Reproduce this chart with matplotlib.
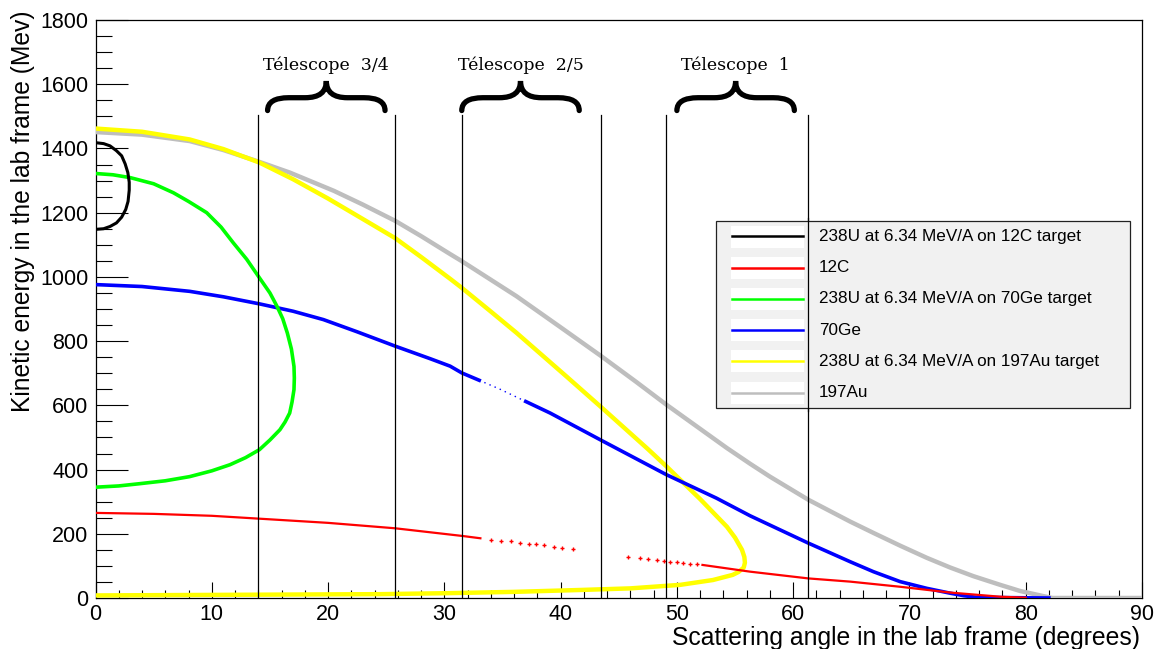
import matplotlib
matplotlib.use("Agg")
import matplotlib.pyplot as plt
from matplotlib.patches import Rectangle, PathPatch
from matplotlib.path import Path
from matplotlib.lines import Line2D
import numpy as np

# ---------------- data ----------------
# 238U on 12C (scattered U)
u_c_angle = [0.0, 0.7, 1.25, 1.8, 2.25, 2.55, 2.78, 2.9, 2.9, 2.8, 2.6, 2.25, 1.8, 1.25, 0.7, 0.0]
u_c_energy = [1418, 1415, 1408, 1393, 1377, 1352, 1325, 1295, 1270, 1235, 1210, 1186, 1168, 1157, 1150, 1148]

# 12C recoil: dense part, sparse dots, dense tail
c_angle = [0.0, 5.0, 10.0, 14.1, 20.0, 25.8, 31.6, 33.1]
c_energy = [265, 262, 256, 247, 234, 217, 193, 186]
c_dot_angle = [34.0, 34.9, 35.7, 36.5, 37.3, 37.9, 38.6, 39.4, 40.1, 41.1,
               45.8, 46.8, 47.5, 48.3, 48.9, 49.4, 50.0, 50.5, 51.1, 51.7]
c_dot_energy = [182, 179, 176, 172, 169, 167, 164, 160, 157, 153,
                129, 124, 121, 118, 115, 113, 111, 109, 107, 105]
c_tail_angle = [52.2, 56.3, 61.3, 64.9, 69.2, 73.5, 77.8, 80.0]
c_tail_energy = [103, 82, 61, 51, 35, 17, 4, 1]

# 238U on 70Ge (scattered U)
u_ge_angle = [0.0, 1.5, 3.0, 5.0, 6.7, 8.0, 9.56, 10.8, 11.85, 13.0, 14.1, 15.0, 15.6, 16.1,
              16.5, 16.85, 17.07, 17.1, 17.07, 16.9, 16.7, 16.3, 15.86, 15.0, 14.1, 12.9,
              11.56, 10.0, 8.1, 6.0, 3.8, 2.0, 0.0]
u_ge_energy = [1322, 1318, 1309, 1290, 1262, 1235, 1200, 1155, 1106, 1055, 997, 950, 909, 870,
               825, 775, 721, 685, 649, 610, 576, 548, 524, 492, 462, 437,
               415, 396, 378, 365, 356, 349, 345]

# 70Ge recoil
ge_angle = [0.0, 4.0, 8.1, 11.0, 14.1, 17.0, 19.6, 22.5, 25.8, 28.8, 30.5, 31.5, 33.0, 34.8,
            37.0, 39.1, 43.5, 49.1, 53.4, 56.3, 61.3, 64.9, 66.9, 69.2, 71.5, 73.5, 74.7,
            75.8, 82.0]
ge_energy = [976, 970, 955, 938, 916, 893, 867, 829, 784, 745, 722, 701, 678, 650,
             612, 576, 491, 384, 311, 256, 171, 113, 82, 51, 30, 15, 7,
             2, 0]

# 238U on 197Au (scattered U)
u_au_angle = [0.0, 4.0, 8.1, 11.0, 14.1, 17.0, 20.0, 23.0, 25.8, 28.0, 30.5, 31.5, 34.0, 36.2,
              40.5, 43.5, 47.5, 49.1, 52.0, 54.3, 55.0, 55.6, 55.8, 55.85, 55.75, 55.3, 54.8,
              53.1, 50.3, 46.0, 41.7, 35.9, 30.2, 24.5, 12.0, 0.0]
u_au_energy = [1462, 1452, 1428, 1398, 1356, 1304, 1244, 1180, 1120, 1062, 994, 966, 892, 826,
               690, 594, 464, 410, 308, 222, 188, 150, 128, 110, 95, 81, 72,
               56, 41, 30, 25, 19, 15, 12, 10, 8]

# 197Au recoil
au_angle = [0.0, 4.0, 8.1, 11.0, 14.1, 16.7, 20.5, 23.0, 25.8, 28.0, 30.5, 31.5, 36.2, 40.0,
            43.5, 46.5, 49.1, 54.3, 56.3, 58.0, 61.3, 64.9, 67.0, 69.2, 71.5, 73.5,
            75.5, 77.8, 79.5, 81.5, 82.3, 90.0]
au_energy = [1451, 1443, 1423, 1395, 1358, 1325, 1268, 1225, 1174, 1127, 1071, 1049, 940, 843,
             753, 673, 602, 467, 418, 378, 306, 238, 201, 163, 125, 95,
             68, 41, 22, 6, 0, 0]

# telescope boundaries (degrees) and labels
tel_lines = [14.0, 25.8, 31.5, 43.5, 49.1, 61.3]
tel_labels = ["Télescope  3/4", "Télescope  2/5", "Télescope  1"]
tel_brace_ranges = [(14.8, 24.9), (31.5, 41.6), (50.0, 60.1)]

legend_labels = ["238U at 6.34 MeV/A on 12C target", "12C",
                 "238U at 6.34 MeV/A on 70Ge target", "70Ge",
                 "238U at 6.34 MeV/A on 197Au target", "197Au"]
legend_colors = ["#000000", "#ff0000", "#00ff00", "#0000ff", "#ffff00", "#bebebe"]

# ---------------- figure ----------------
W, H = 1158, 649
fig = plt.figure(figsize=(W / 100, H / 100), dpi=100)
L, R, T, B = 95.5, 1142, 20, 598
ax = fig.add_axes([L / W, 1 - B / H, (R - L) / W, (B - T) / H])
ax.set_xlim(0, 90)
ax.set_ylim(0, 1800)

sans = "Liberation Sans"
lw_curve = 2.6

ax.plot(au_angle, au_energy, color="#bebebe", lw=3.2, zorder=3, solid_capstyle="butt")
ax.plot(u_au_angle, u_au_energy, color="#ffff00", lw=3.2, zorder=4)
ge_a = np.array(ge_angle); ge_e = np.array(ge_energy)
m1 = ge_a <= 33.0
m2 = (ge_a >= 33.0) & (ge_a <= 37.0)
m3 = ge_a >= 37.0
ax.plot(ge_a[m1], ge_e[m1], color="#0000ff", lw=lw_curve, zorder=5)
ax.plot(ge_a[m2], ge_e[m2], color="#0000ff", lw=1.0, ls=(0, (1, 3)), zorder=5)
ax.plot(ge_a[m3], ge_e[m3], color="#0000ff", lw=lw_curve, zorder=5)
ax.plot(u_ge_angle, u_ge_energy, color="#00ff00", lw=lw_curve, zorder=5)
ax.plot(u_c_angle, u_c_energy, color="#000000", lw=2.2, zorder=5)
ax.plot(c_angle, c_energy, color="#ff0000", lw=1.6, zorder=5)
ax.plot(c_dot_angle, c_dot_energy, ls="none", marker="+", ms=3.5, mew=1.0,
        color="#ff0000", zorder=5)
ax.plot(c_tail_angle, c_tail_energy, color="#ff0000", lw=1.6, zorder=5)

for xv in tel_lines:
    ax.plot([xv, xv], [0, 1503], color="black", lw=0.9, zorder=8)

# braces
def brace(ax, x0, x1, yb, ym, yt, lw=3.8):
    xc = 0.5 * (x0 + x1)
    w = x1 - x0
    verts = [(x0, yb), (x0, ym), (x0 + 0.18 * w, ym),
             (xc - 0.18 * w, ym), (xc, ym), (xc, yt),
             (xc, ym), (xc + 0.18 * w, ym),
             (x1 - 0.18 * w, ym), (x1, ym), (x1, yb)]
    codes = [Path.MOVETO, Path.CURVE3, Path.CURVE3,
             Path.LINETO, Path.CURVE3, Path.CURVE3,
             Path.CURVE3, Path.CURVE3,
             Path.LINETO, Path.CURVE3, Path.CURVE3]
    ax.add_patch(PathPatch(Path(verts, codes), fill=False, lw=lw,
                           edgecolor="black", capstyle="round", zorder=9,
                           clip_on=False))

for (x0, x1), lab in zip(tel_brace_ranges, tel_labels):
    brace(ax, x0, x1, 1518, 1558, 1610)
    ax.text(0.5 * (x0 + x1), 1645, lab, ha="center", va="baseline",
            family="DejaVu Serif", fontsize=12.5, zorder=9)

# axes styling
for s in ax.spines.values():
    s.set_linewidth(0.9)
ax.set_xticks(np.arange(0, 91, 10))
ax.set_xticks(np.arange(0, 91, 2), minor=True)
ax.set_yticks(np.arange(0, 1801, 200))
ax.set_yticks(np.arange(0, 1801, 50), minor=True)
ax.tick_params(axis="x", which="major", direction="in", length=11.5, width=0.8,
               labelsize=15.5, pad=4.5, top=False)
ax.tick_params(axis="x", which="minor", direction="in", length=5.5, width=0.8, top=False)
ax.tick_params(axis="y", which="major", direction="in", length=23, width=0.8,
               labelsize=15.5, pad=5, right=False)
ax.tick_params(axis="y", which="minor", direction="in", length=11.5, width=0.8, right=False)
for lab in ax.get_xticklabels() + ax.get_yticklabels():
    lab.set_family(sans)

fig.text(1140 / W, 1 - 645 / H, "Scattering angle in the lab frame (degrees)",
         ha="right", va="baseline", family=sans, fontsize=17.8)
fig.text(23 / W, 1 - 10 / H, "Kinetic energy in the lab frame (Mev)",
         ha="center", va="top", rotation=90, family=sans, fontsize=17.7)

# manual legend (ROOT style)
def fx(px):
    return px / W
def fy(py):
    return 1 - py / H

lx0, lx1, ly0, ly1 = 716, 1130, 221, 408
fig.patches.append(Rectangle((fx(lx0), fy(ly1)), fx(lx1) - fx(lx0), fy(ly0) - fy(ly1),
                             transform=fig.transFigure, facecolor="#f1f1f1",
                             edgecolor="#222222", lw=0.9, zorder=6))
row0, drow = 236.5, 31.2
for i, (lab, col) in enumerate(zip(legend_labels, legend_colors)):
    yc = row0 + i * drow
    fig.patches.append(Rectangle((fx(731), fy(yc + 11)), fx(804) - fx(731), fy(yc - 11) - fy(yc + 11),
                                 transform=fig.transFigure, facecolor="white",
                                 edgecolor="none", zorder=6.5))
    fig.lines.append(Line2D([fx(732), fx(803)], [fy(yc), fy(yc)], transform=fig.transFigure,
                            color=col, lw=1.8, zorder=7))
    fig.text(fx(819), fy(yc), lab, ha="left", va="center", family=sans,
             fontsize=12.3, zorder=7)

# the telescope line crossing the legend is drawn on top of it
fig.lines.append(Line2D([fx(L + 61.3 * (R - L) / 90)] * 2, [fy(ly0 - 3), fy(ly1 + 3)],
                        transform=fig.transFigure, color="black", lw=0.9, zorder=10))

fig.savefig("out.png", dpi=100)
